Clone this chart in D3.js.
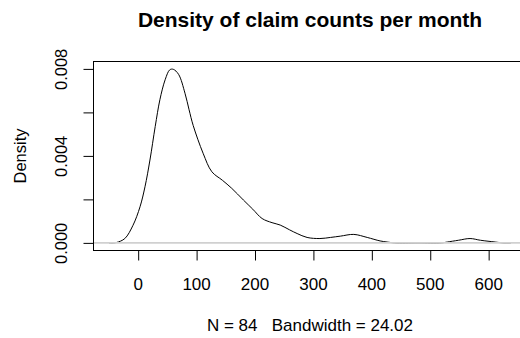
<!DOCTYPE html>
<html><head><meta charset="utf-8">
<script src="https://cdn.jsdelivr.net/npm/d3@7"></script>
<style>
html,body{margin:0;padding:0;background:#fff;}
text{font-family:"Liberation Sans",Arial,sans-serif;fill:#000;white-space:pre;}
</style></head>
<body>
<svg id="c" width="520" height="338"></svg>
<script>
const titleText = "Density of claim counts per month";
const xLabelText = "N = 84   Bandwidth = 24.02";
const yLabelText = "Density";
const densX = [-49, -42, -36, -22, -8, 4, 12.5, 21, 30, 38, 47, 55, 61, 70, 81, 88, 95, 112, 127, 145, 161, 181, 197, 213, 230, 244, 260, 273, 290, 312, 330, 347, 370, 393, 415, 427, 440, 480, 520, 530, 549, 569, 587, 612, 625, 639];
const densY = [0.0, 0.0, 0.00002, 0.0002, 0.00081, 0.00166, 0.00258, 0.00381, 0.00535, 0.00658, 0.0075, 0.00796, 0.00798, 0.00775, 0.00688, 0.00612, 0.0054, 0.00412, 0.00327, 0.00288, 0.00251, 0.00197, 0.00155, 0.00112, 0.00093, 0.00082, 0.0006, 0.00043, 0.00025, 0.0002, 0.00025, 0.00031, 0.00039, 0.00025, 0.00009, 0.00004, 0.0, 0.0, 0.0, 0.00004, 0.00012, 0.0002, 0.00012, 0.00004, 0.0, 0.0];
const xTicks = [0, 100, 200, 300, 400, 500, 600];
const yTicks = [0, 0.002, 0.004, 0.006, 0.008];
const yTickLabels = ["0.000", "", "0.004", "", "0.008"];

const svg = d3.select("#c");
const L = 93, R = 527, T = 61.5, B = 250.5;
const x = d3.scaleLinear().domain([-76.5, 666.5]).range([L, R]);
const y = d3.scaleLinear().domain([-0.00035, 0.00834]).range([B, T]);

// curve
const pts = densX.map((d, i) => [d, densY[i]]);
svg.append("path")
  .attr("d", d3.line().x(d => x(d[0])).y(d => Math.min(y(d[1]), y(0))).curve(d3.curveCatmullRom.alpha(0.5))(pts))
  .attr("fill", "none").attr("stroke", "#000").attr("stroke-width", 1);

// zero line (drawn over the curve, like R's zero.line)
svg.append("line").attr("x1", L).attr("x2", R)
  .attr("y1", y(0)).attr("y2", y(0))
  .attr("stroke", "#d0d0d0").attr("stroke-width", 1.6);

// box
svg.append("rect").attr("x", L + 0.5).attr("y", T).attr("width", R - L).attr("height", B - T)
  .attr("fill", "none").attr("stroke", "#000").attr("stroke-width", 1);

// x axis
const xa = svg.append("g").attr("transform", `translate(0,${B})`)
  .call(d3.axisBottom(x).tickValues(xTicks).tickSize(10).tickPadding(17).tickFormat(d3.format("d")));
xa.select(".domain").remove();
xa.selectAll("line").attr("stroke", "#000").attr("transform", "translate(0.5,0)");
xa.selectAll("text").attr("font-size", 17).attr("font-family", "Liberation Sans, Arial, sans-serif").attr("fill", "#000");

// y axis
const ya = svg.append("g").attr("transform", `translate(${L + 0.5},0)`)
  .call(d3.axisLeft(y).tickValues(yTicks).tickSize(10).tickFormat((d, i) => yTickLabels[i]));
ya.select(".domain").remove();
ya.selectAll(".tick line").attr("stroke", "#000");
ya.selectAll(".tick text").remove();
ya.selectAll(".tick").append("text")
  .attr("transform", "translate(-27,0) rotate(-90)")
  .attr("text-anchor", "middle")
  .attr("font-size", 16.5).attr("fill", "#000")
  .text((d, i) => yTickLabels[i]);

// title
svg.append("text").attr("x", 310).attr("y", 26.5).attr("text-anchor", "middle")
  .attr("font-weight", "bold").attr("font-size", 21).text(titleText);
// x label
svg.append("text").attr("x", 310).attr("y", 331).attr("text-anchor", "middle")
  .attr("font-size", 17).text(xLabelText);
// y label
svg.append("text").attr("transform", `translate(26,156) rotate(-90)`).attr("text-anchor", "middle")
  .attr("font-size", 16.5).text(yLabelText);
</script>
</body></html>
